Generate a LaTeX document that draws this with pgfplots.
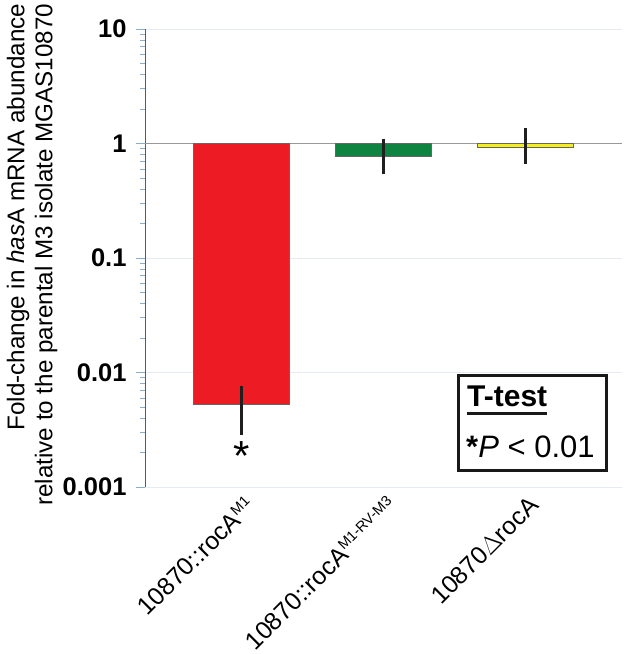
\documentclass[border=0pt]{standalone}
\usepackage{pgfplots}
\pgfplotsset{compat=1.18}
\usepackage{fontspec}
\setmainfont{Liberation Sans}
\definecolor{barred}{HTML}{ED1C24}
\definecolor{bargreen}{HTML}{0E8440}
\definecolor{baryellow}{HTML}{F4EE1A}
\definecolor{tickblue}{HTML}{8AAED0}
\definecolor{gridc}{HTML}{E6EBF1}
\newcommand{\sups}[1]{\raisebox{8.5pt}{\fontsize{14.5}{14.5}\selectfont #1}}
\pgfplotstableread{
x y ep em
0 0.0053 0.0019 0.0023
}\redtab
\pgfplotstableread{
x y ep em
1 0.778 0.272 0.211
}\greentab
\pgfplotstableread{
x y ep em
2 0.926 0.364 0.232
}\yellowtab
\begin{document}
\begin{tikzpicture}
\begin{axis}[
  at={(0,0)}, anchor=south west,
  scale only axis, width=477pt, height=458pt,
  ymode=log, ymin=0.001, ymax=10,
  xmin=-0.68, xmax=2.68,
  axis y line*=left, axis x line*=bottom,
  x axis line style={draw=none},
  y axis line style={draw=black!65, line width=0.9pt, -},
  ytick={0.001,0.01,0.1,1,10},
  yticklabels={0.001,0.01,0.1,1,10},
  yticklabel style={font=\fontsize{25.5}{25.5}\selectfont\bfseries, xshift=-6pt},
  ymajorgrids, major grid style={gridc, line width=0.8pt},
  tick align=outside,
  major tick length=9pt, minor tick length=5pt,
  ytick style={tickblue, line width=0.8pt},
  xtick={0,1,2},
  xticklabels={{10870::rocA\sups{M1}},{10870::rocA\sups{M1-RV-M3}},{10870$\Delta$rocA}},
  x tick style={draw=none},
  xticklabel style={xshift=2pt, yshift=6pt, rotate=45, anchor=north east, font=\fontsize{24.8}{24.8}\selectfont},
  extra y ticks={1}, extra y tick labels={},
  extra y tick style={major grid style={black!40, line width=1pt}, major tick length=0pt},
  ylabel={Fold-change in \textit{has}A mRNA abundance\\relative to the parental M3 isolate MGAS10870},
  ylabel style={at={(axis description cs:-0.183,0.507)}, anchor=south, align=right, rotate=0, font=\fontsize{24.2}{28}\selectfont, inner sep=0pt},
  error bars/error bar style={line width=3.3pt, black!88},
  error bars/error mark options={line width=3.3pt, mark size=2.5pt, black!88},
]
\addplot[ybar, bar shift=0pt, bar width=0.676, fill=barred, draw=black!60, line width=0.6pt,
  error bars/.cd, y dir=both, y explicit]
  table[x=x, y=y, y error plus=ep, y error minus=em] {\redtab};
\addplot[ybar, bar shift=0pt, bar width=0.676, fill=bargreen, draw=black!60, line width=0.6pt,
  error bars/.cd, y dir=both, y explicit]
  table[x=x, y=y, y error plus=ep, y error minus=em] {\greentab};
\addplot[ybar, bar shift=0pt, bar width=0.676, fill=baryellow, draw=black!60, line width=0.6pt,
  error bars/.cd, y dir=both, y explicit]
  table[x=x, y=y, y error plus=ep, y error minus=em] {\yellowtab};
\node[font=\fontsize{42}{42}\selectfont, inner sep=0pt] at (axis cs:0,0.00185) {*};
\node[draw=black!90, line width=3pt, fill=white, minimum width=148pt, minimum height=95pt, inner sep=0pt] at (rel axis cs:0.8134,0.1408) {};
\node[anchor=base west, inner sep=0pt, font=\fontsize{30}{30}\selectfont\bfseries] (tt) at (rel axis cs:0.675,0.1747) {T-test};
\draw[line width=3pt, black!90] ([yshift=-7pt]tt.base west) -- ([yshift=-7pt]tt.base east);
\node[anchor=base west, inner sep=0pt, font=\fontsize{31}{31}\selectfont] at (rel axis cs:0.673,0.0655) {{\bfseries *}\textit{P} < 0.01};
\end{axis}
\pgfresetboundingbox
\path[use as bounding box] (-145pt,-167pt) rectangle (484pt,487pt);
\end{tikzpicture}
\end{document}
